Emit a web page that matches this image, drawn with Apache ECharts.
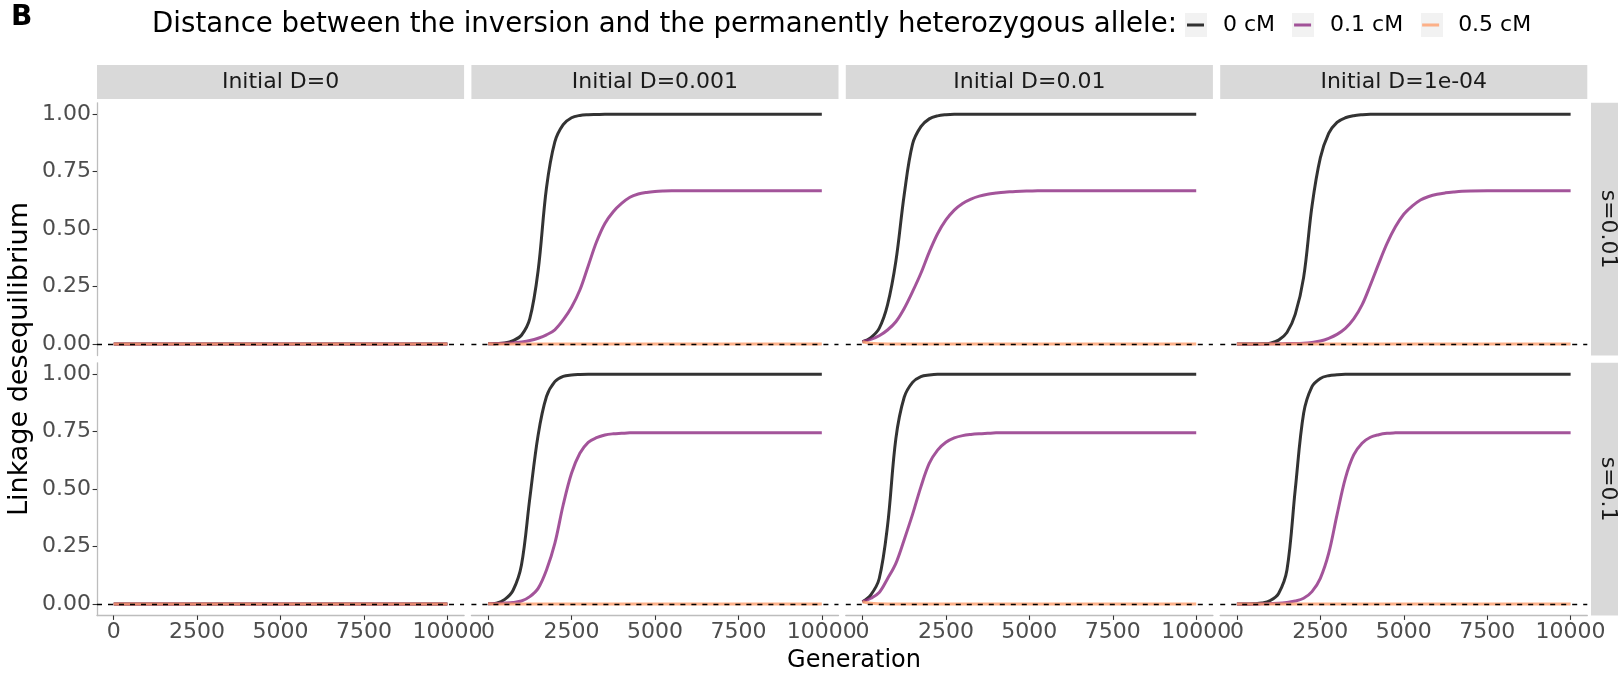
<!DOCTYPE html>
<html>
<head>
<meta charset="utf-8">
<script src="https://cdn.jsdelivr.net/npm/echarts@6/dist/echarts.min.js"></script>
<style>html,body{margin:0;padding:0;background:#fff}#main{width:1618px;height:677px}</style>
</head>
<body>
<div id="main"></div>
<script>
// facet labels and legend
var colLabels = ["Initial D=0", "Initial D=0.001", "Initial D=0.01", "Initial D=1e-04"];
var rowLabels = ["s=0.01", "s=0.1"];
var seriesNames = ["0 cM", "0.1 cM", "0.5 cM"];
var seriesColors = ["rgba(0,0,0,0.8)", "rgba(140,41,129,0.8)", "rgba(254,159,109,0.8)"];
var xTicks = [0, 2500, 5000, 7500, 10000];
var yTicks = [0, 0.25, 0.5, 0.75, 1];

// generations
var gens = [0,250,500,750,1000,1250,1500,1750,2000,2250,2500,2750,3000,3250,3500,3750,4000,4250,4500,4750,5000,5250,5500,5750,6000,6250,6500,6750,7000,8000,9000,10000];
var flatGens = [0, 10000];
var flatZero = [0, 0];
var orangeGens = [0, 250, 500, 1000, 10000];
var orangeD001 = [0.001, 0.0003, 0.0001, 0, 0];
var orangeD01 = [0.01, 0.003, 0.001, 0, 0];
var orangeD1e4 = [0.0001, 0, 0, 0, 0];

// s=0.01
var s001_d001_0 = [0.001,0.002,0.005,0.015,0.038,0.11,0.32,0.68,0.88,0.955,0.985,0.995,0.998,0.999,1,1,1,1,1,1,1,1,1,1,1,1,1,1,1,1,1,1];
var s001_d001_01 = [0.001,0.002,0.003,0.005,0.009,0.015,0.025,0.04,0.062,0.105,0.16,0.235,0.34,0.445,0.525,0.576,0.612,0.639,0.653,0.66,0.664,0.666,0.667,0.667,0.667,0.667,0.667,0.667,0.667,0.667,0.667,0.667];
var s001_d01_0 = [0.01,0.028,0.068,0.17,0.36,0.65,0.87,0.946,0.98,0.993,0.998,1,1,1,1,1,1,1,1,1,1,1,1,1,1,1,1,1,1,1,1,1];
var s001_d01_01 = [0.01,0.02,0.036,0.061,0.097,0.155,0.228,0.308,0.40,0.48,0.54,0.583,0.612,0.631,0.644,0.652,0.657,0.661,0.663,0.665,0.666,0.667,0.667,0.667,0.667,0.667,0.667,0.667,0.667,0.667,0.667,0.667];
var s001_d1e4_0 = [0.0001,0.0002,0.0005,0.001,0.004,0.017,0.05,0.13,0.29,0.6,0.81,0.917,0.965,0.985,0.994,0.998,1,1,1,1,1,1,1,1,1,1,1,1,1,1,1,1];
var s001_d1e4_01 = [0,0,0,0,0.001,0.001,0.002,0.002,0.003,0.007,0.013,0.025,0.042,0.068,0.109,0.17,0.257,0.35,0.438,0.51,0.565,0.6,0.627,0.642,0.652,0.658,0.662,0.665,0.666,0.667,0.667,0.667];

// s=0.1
var s01_d001_0 = [0.001,0.004,0.02,0.06,0.17,0.46,0.736,0.903,0.968,0.991,0.997,0.999,1,1,1,1,1,1,1,1,1,1,1,1,1,1,1,1,1,1,1,1];
var s01_d001_01 = [0.001,0.002,0.004,0.007,0.013,0.032,0.068,0.148,0.264,0.431,0.569,0.656,0.704,0.724,0.736,0.741,0.743,0.745,0.746,0.746,0.746,0.746,0.746,0.746,0.746,0.746,0.746,0.746,0.746,0.746,0.746,0.746];
var s01_d01_0 = [0.01,0.04,0.11,0.34,0.72,0.90,0.965,0.99,0.997,1,1,1,1,1,1,1,1,1,1,1,1,1,1,1,1,1,1,1,1,1,1,1];
var s01_d01_01 = [0.01,0.025,0.05,0.11,0.177,0.28,0.39,0.51,0.612,0.67,0.704,0.723,0.733,0.738,0.741,0.743,0.745,0.746,0.746,0.746,0.746,0.746,0.746,0.746,0.746,0.746,0.746,0.746,0.746,0.746,0.746,0.746];
var s01_d1e4_0 = [0,0,0.001,0.004,0.015,0.046,0.148,0.5,0.83,0.946,0.982,0.994,0.998,1,1,1,1,1,1,1,1,1,1,1,1,1,1,1,1,1,1,1];
var s01_d1e4_01 = [0,0,0,0.001,0.002,0.003,0.007,0.013,0.025,0.054,0.112,0.22,0.388,0.547,0.649,0.7,0.726,0.737,0.743,0.745,0.746,0.746,0.746,0.746,0.746,0.746,0.746,0.746,0.746,0.746,0.746,0.746];

// [row][col] -> three curves, each [gens, values]
var panels = [
  [
    [[flatGens, flatZero], [flatGens, flatZero], [flatGens, flatZero]],
    [[gens, s001_d001_0], [gens, s001_d001_01], [orangeGens, orangeD001]],
    [[gens, s001_d01_0], [gens, s001_d01_01], [orangeGens, orangeD01]],
    [[gens, s001_d1e4_0], [gens, s001_d1e4_01], [orangeGens, orangeD1e4]]
  ],
  [
    [[flatGens, flatZero], [flatGens, flatZero], [flatGens, flatZero]],
    [[gens, s01_d001_0], [gens, s01_d001_01], [orangeGens, orangeD001]],
    [[gens, s01_d01_0], [gens, s01_d01_01], [orangeGens, orangeD01]],
    [[gens, s01_d1e4_0], [gens, s01_d1e4_01], [orangeGens, orangeD1e4]]
  ]
];

var FONT = "DejaVu Sans";
var PL = [97, 471.4, 845.8, 1220.2], PW = 367.1;
var PT = [102.8, 362.8], PH = 252.7;

var grids = [], xAxes = [], yAxes = [], series = [], graphics = [];

for (var r = 0; r < 2; r++) {
  for (var c = 0; c < 4; c++) {
    var i = r * 4 + c;
    var bottom = r === 1, left = c === 0;
    grids.push({left: PL[c], top: PT[r], width: PW, height: PH});
    xAxes.push({
      type: "value", gridIndex: i, min: -500, max: 10500,
      splitLine: {show: false},
      axisLine: {show: bottom, onZero: false, lineStyle: {color: "#bdbdbd", width: 1.3}},
      axisTick: {show: bottom, customValues: xTicks, length: 4.4, lineStyle: {color: "#333", width: 1.1}},
      axisLabel: {show: bottom, customValues: xTicks, margin: 6, color: "#4d4d4d", fontSize: 22, fontFamily: FONT,
        formatter: function (v) { return String(v); }}
    });
    yAxes.push({
      type: "value", gridIndex: i, min: -0.05, max: 1.05,
      splitLine: {show: false},
      axisLine: {show: left, onZero: false, lineStyle: {color: "#bdbdbd", width: 1.3}},
      axisTick: {show: left, customValues: yTicks, length: 4.4, lineStyle: {color: "#333", width: 1.1}},
      axisLabel: {show: left, customValues: yTicks, margin: 6, color: "#4d4d4d", fontSize: 22, fontFamily: FONT,
        formatter: function (v) { return v.toFixed(2); }}
    });
    // dashed reference line at 0
    series.push({
      type: "line", xAxisIndex: i, yAxisIndex: i, data: [], z: 1, silent: true,
      markLine: {silent: true, symbol: ["none", "none"], label: {show: false},
        lineStyle: {color: "#000", type: [5, 6], width: 1.3}, data: [{yAxis: 0}]}
    });
    for (var k = 0; k < 3; k++) {
      var cur = panels[r][c][k];
      series.push({
        name: seriesNames[k], type: "line", xAxisIndex: i, yAxisIndex: i, z: 3,
        data: cur[0].map(function (g, j) { return [g, cur[1][j]]; }),
        showSymbol: false, symbol: "none", smooth: 0.35,
        itemStyle: {color: seriesColors[k]},
        lineStyle: {color: seriesColors[k], width: 3}
      });
    }
  }
}

// strips
for (var c = 0; c < 4; c++) {
  graphics.push({type: "rect", shape: {x: PL[c], y: 65, width: PW, height: 34}, style: {fill: "#d9d9d9"}});
  graphics.push({type: "text", x: PL[c] + PW / 2, y: 82,
    style: {text: colLabels[c], fill: "#1a1a1a", font: "22px " + FONT, textAlign: "center", textVerticalAlign: "middle"}});
}
for (var r = 0; r < 2; r++) {
  graphics.push({type: "rect", shape: {x: 1591, y: PT[r], width: 34, height: PH}, style: {fill: "#d9d9d9"}});
  graphics.push({type: "text", x: 1608, y: PT[r] + PH / 2, rotation: -Math.PI / 2,
    style: {text: rowLabels[r], fill: "#1a1a1a", font: "22px " + FONT, textAlign: "center", textVerticalAlign: "middle"}});
}
// axis titles
graphics.push({type: "text", x: 20, y: 359, rotation: Math.PI / 2,
  style: {text: "Linkage desequilibrium", fill: "#000", font: "27px " + FONT, textAlign: "center", textVerticalAlign: "middle"}});
graphics.push({type: "text", x: 854, y: 661,
  style: {text: "Generation", fill: "#000", font: "24px " + FONT, textAlign: "center", textVerticalAlign: "middle"}});
// legend key backgrounds
[1185, 1292, 1421].forEach(function (x) {
  graphics.push({type: "rect", z: -1, shape: {x: x, y: 13, width: 22, height: 24}, style: {fill: "#f2f2f2"}});
});

var option = {
  backgroundColor: "#fff",
  animation: false,
  title: [
    {text: "B", left: 11, top: 3, padding: 0, textStyle: {fontFamily: FONT, fontWeight: "bold", fontSize: 28, color: "#000", lineHeight: 30}},
    {text: "Distance between the inversion and the permanently heterozygous allele:", right: 441, top: 10, padding: 0,
      textStyle: {fontFamily: FONT, fontWeight: "normal", fontSize: 27.6, color: "#000", lineHeight: 30}}
  ],
  legend: {
    data: seriesNames, left: 1187, top: 14, padding: 0, icon: "rect", itemWidth: 17, itemHeight: 3, itemGap: 19, z: 10,
    textStyle: {fontFamily: FONT, fontSize: 22, color: "#000", lineHeight: 22, padding: [0, 0, 0, 14]}
  },
  grid: grids,
  xAxis: xAxes,
  yAxis: yAxes,
  series: series,
  graphic: graphics
};

var chart = echarts.init(document.getElementById("main"));
chart.setOption(option);
</script>
</body>
</html>
